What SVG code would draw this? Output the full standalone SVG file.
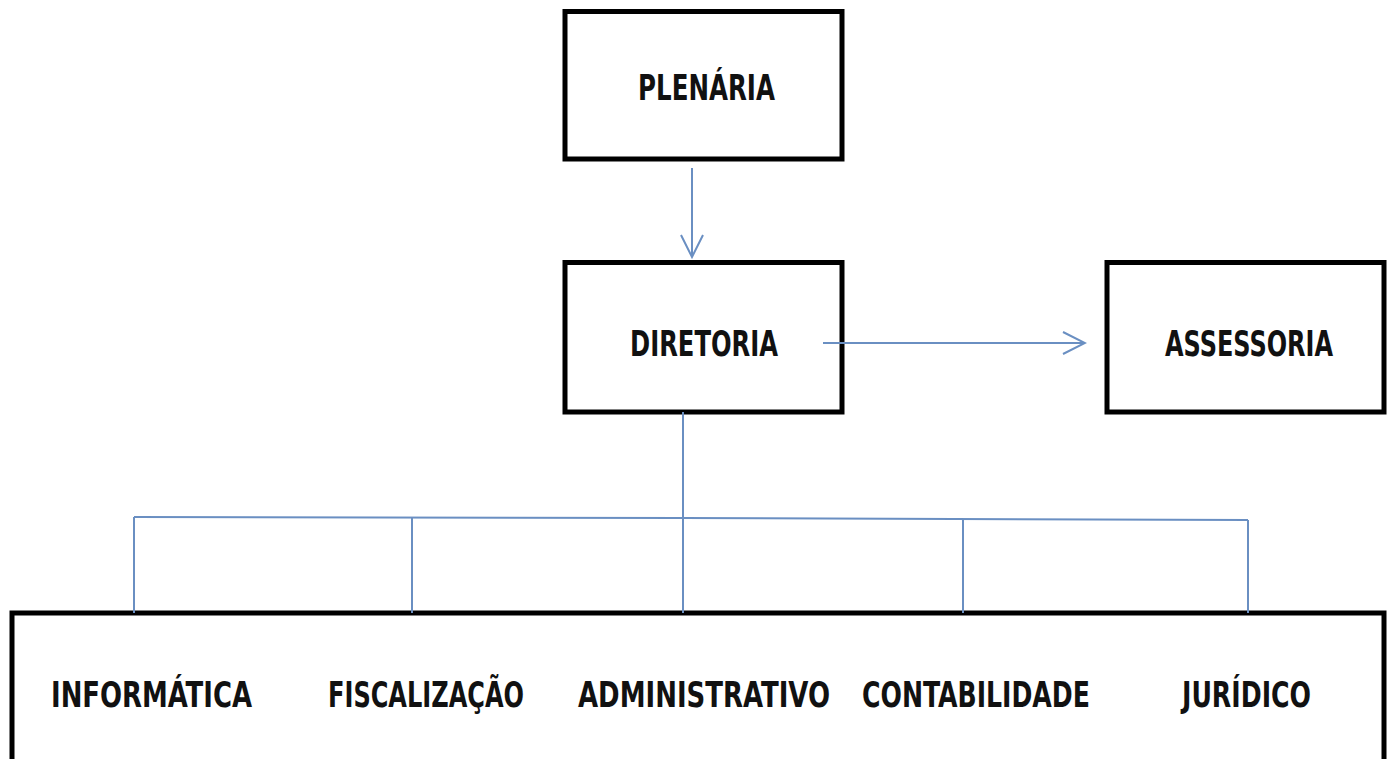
<svg xmlns="http://www.w3.org/2000/svg" width="1391" height="759" viewBox="0 0 1391 759">
<style>
.box{fill:#ffffff;stroke:#000000;stroke-width:5}
.lbl{font-family:"DejaVu Sans Condensed","DejaVu Sans",sans-serif;font-weight:bold;font-stretch:condensed;font-size:28px;fill:#111111}
.con{fill:none;stroke:#6a8fc2;stroke-width:2}
</style>
<defs>
<marker id="arr" viewBox="0 0 26 26" refX="24" refY="13" markerWidth="26" markerHeight="26" markerUnits="userSpaceOnUse" orient="auto">
<path d="M2,2 L24,13 L2,24" fill="none" stroke="#6a8fc2" stroke-width="2"/>
</marker>
</defs>
<rect width="1391" height="759" fill="#ffffff"/>
<g id="plenaria">
<rect class="box" x="565" y="11.5" width="277" height="147.5"/>
<text class="lbl" transform="translate(638,100) scale(1,1.28)" textLength="137" lengthAdjust="spacingAndGlyphs">PLENÁRIA</text>
</g>
<g id="diretoria">
<rect class="box" x="565" y="262.5" width="277" height="149.5"/>
<text class="lbl" transform="translate(630,356) scale(1,1.28)" textLength="148" lengthAdjust="spacingAndGlyphs">DIRETORIA</text>
</g>
<g id="assessoria">
<rect class="box" x="1107" y="262.5" width="277" height="149.5"/>
<text class="lbl" transform="translate(1165,356) scale(1,1.28)" textLength="168" lengthAdjust="spacingAndGlyphs">ASSESSORIA</text>
</g>
<g id="departamentos">
<rect class="box" x="12" y="613" width="1372" height="200"/>
<text class="lbl" transform="translate(51,707) scale(1,1.28)" textLength="201" lengthAdjust="spacingAndGlyphs">INFORMÁTICA</text>
<text class="lbl" transform="translate(328,707) scale(1,1.28)" textLength="196" lengthAdjust="spacingAndGlyphs">FISCALIZAÇÃO</text>
<text class="lbl" transform="translate(578,707) scale(1,1.28)" textLength="252" lengthAdjust="spacingAndGlyphs">ADMINISTRATIVO</text>
<text class="lbl" transform="translate(862,707) scale(1,1.28)" textLength="228" lengthAdjust="spacingAndGlyphs">CONTABILIDADE</text>
<text class="lbl" transform="translate(1182,707) scale(1,1.28)" textLength="129" lengthAdjust="spacingAndGlyphs">JURÍDICO</text>
</g>
<g id="connectors">
<line class="con" x1="692" y1="168" x2="692" y2="257" marker-end="url(#arr)"/>
<line class="con" x1="823" y1="343" x2="1085" y2="343" marker-end="url(#arr)"/>
<line class="con" x1="683" y1="412" x2="683" y2="613"/>
<polyline class="con" points="134,517 683,518 1248,520"/>
<line class="con" x1="134" y1="517" x2="134" y2="613"/>
<line class="con" x1="412" y1="517" x2="412" y2="613"/>
<line class="con" x1="963" y1="519" x2="963" y2="613"/>
<line class="con" x1="1248" y1="520" x2="1248" y2="613"/>
</g>
</svg>
